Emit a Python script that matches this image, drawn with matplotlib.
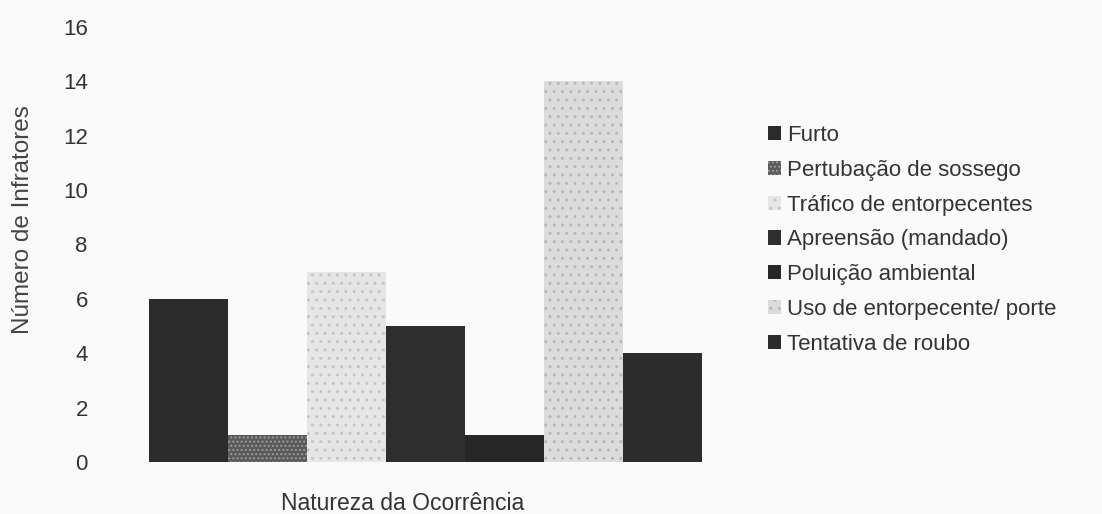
import matplotlib
matplotlib.use("Agg")
import matplotlib.pyplot as plt

plt.rcParams["font.family"] = ["Liberation Sans", "DejaVu Sans"]

categories = [
    "Furto",
    "Pertubação de sossego",
    "Tráfico de entorpecentes",
    "Apreensão (mandado)",
    "Poluição ambiental",
    "Uso de entorpecente/ porte",
    "Tentativa de roubo",
]
counts = [6, 1, 7, 5, 1, 14, 4]
y_ticks = [0, 2, 4, 6, 8, 10, 12, 14, 16]

# scanned greyscale look
colors = ["#2b2b2b", "#5a5a5a", "#e6e6e6", "#2e2e2e", "#262626", "#dcdcdc", "#2c2c2c"]
hatches = [None, "....", "..", None, None, "..", None]
hatch_colors = ["#2b2b2b", "#9a9a9a", "#c4c4c4", "#2e2e2e", "#262626", "#b8b8b8", "#2c2c2c"]

W, H = 1102, 514
fig = plt.figure(figsize=(W / 100, H / 100), dpi=100)
fig.patch.set_facecolor("#fafafa")

ax_left, ax_right = 110, 720
ax_top, ax_bottom = 27, 462
ax = fig.add_axes([ax_left / W, 1 - ax_bottom / H, (ax_right - ax_left) / W, (ax_bottom - ax_top) / H])
ax.set_facecolor("none")

handles = []
for i, (cat, val) in enumerate(zip(categories, counts)):
    b = ax.bar(i, val, width=1.0, color=colors[i], edgecolor=hatch_colors[i],
               linewidth=0, hatch=hatches[i], label=cat)
    handles.append(b)

ax.set_xlim(-1.0, 6.73)
ax.set_ylim(0, 16)
ax.set_yticks(y_ticks)
ax.set_xticks([])
ax.tick_params(axis="y", length=0, pad=16, labelsize=16, labelcolor="#333333")
for s in ax.spines.values():
    s.set_visible(False)

fig.text(23 / W, 1 - 220 / H, "Número de Infratores", rotation=90,
         ha="center", va="center", fontsize=17.5, color="#444444")
fig.text(403 / W, 1 - 510 / H, "Natureza da Ocorrência",
         ha="center", va="baseline", fontsize=16.5, color="#333333")

leg = fig.legend(handles=handles, labels=categories, loc="upper left",
                 bbox_to_anchor=(768 / W, 1 - 125 / H), frameon=False,
                 borderpad=0, borderaxespad=0,
                 fontsize=16, handlelength=0.6, handleheight=0.6,
                 handletextpad=0.25, labelspacing=0.62, labelcolor="#333333")

fig.savefig("out.png", dpi=100, facecolor=fig.get_facecolor())
